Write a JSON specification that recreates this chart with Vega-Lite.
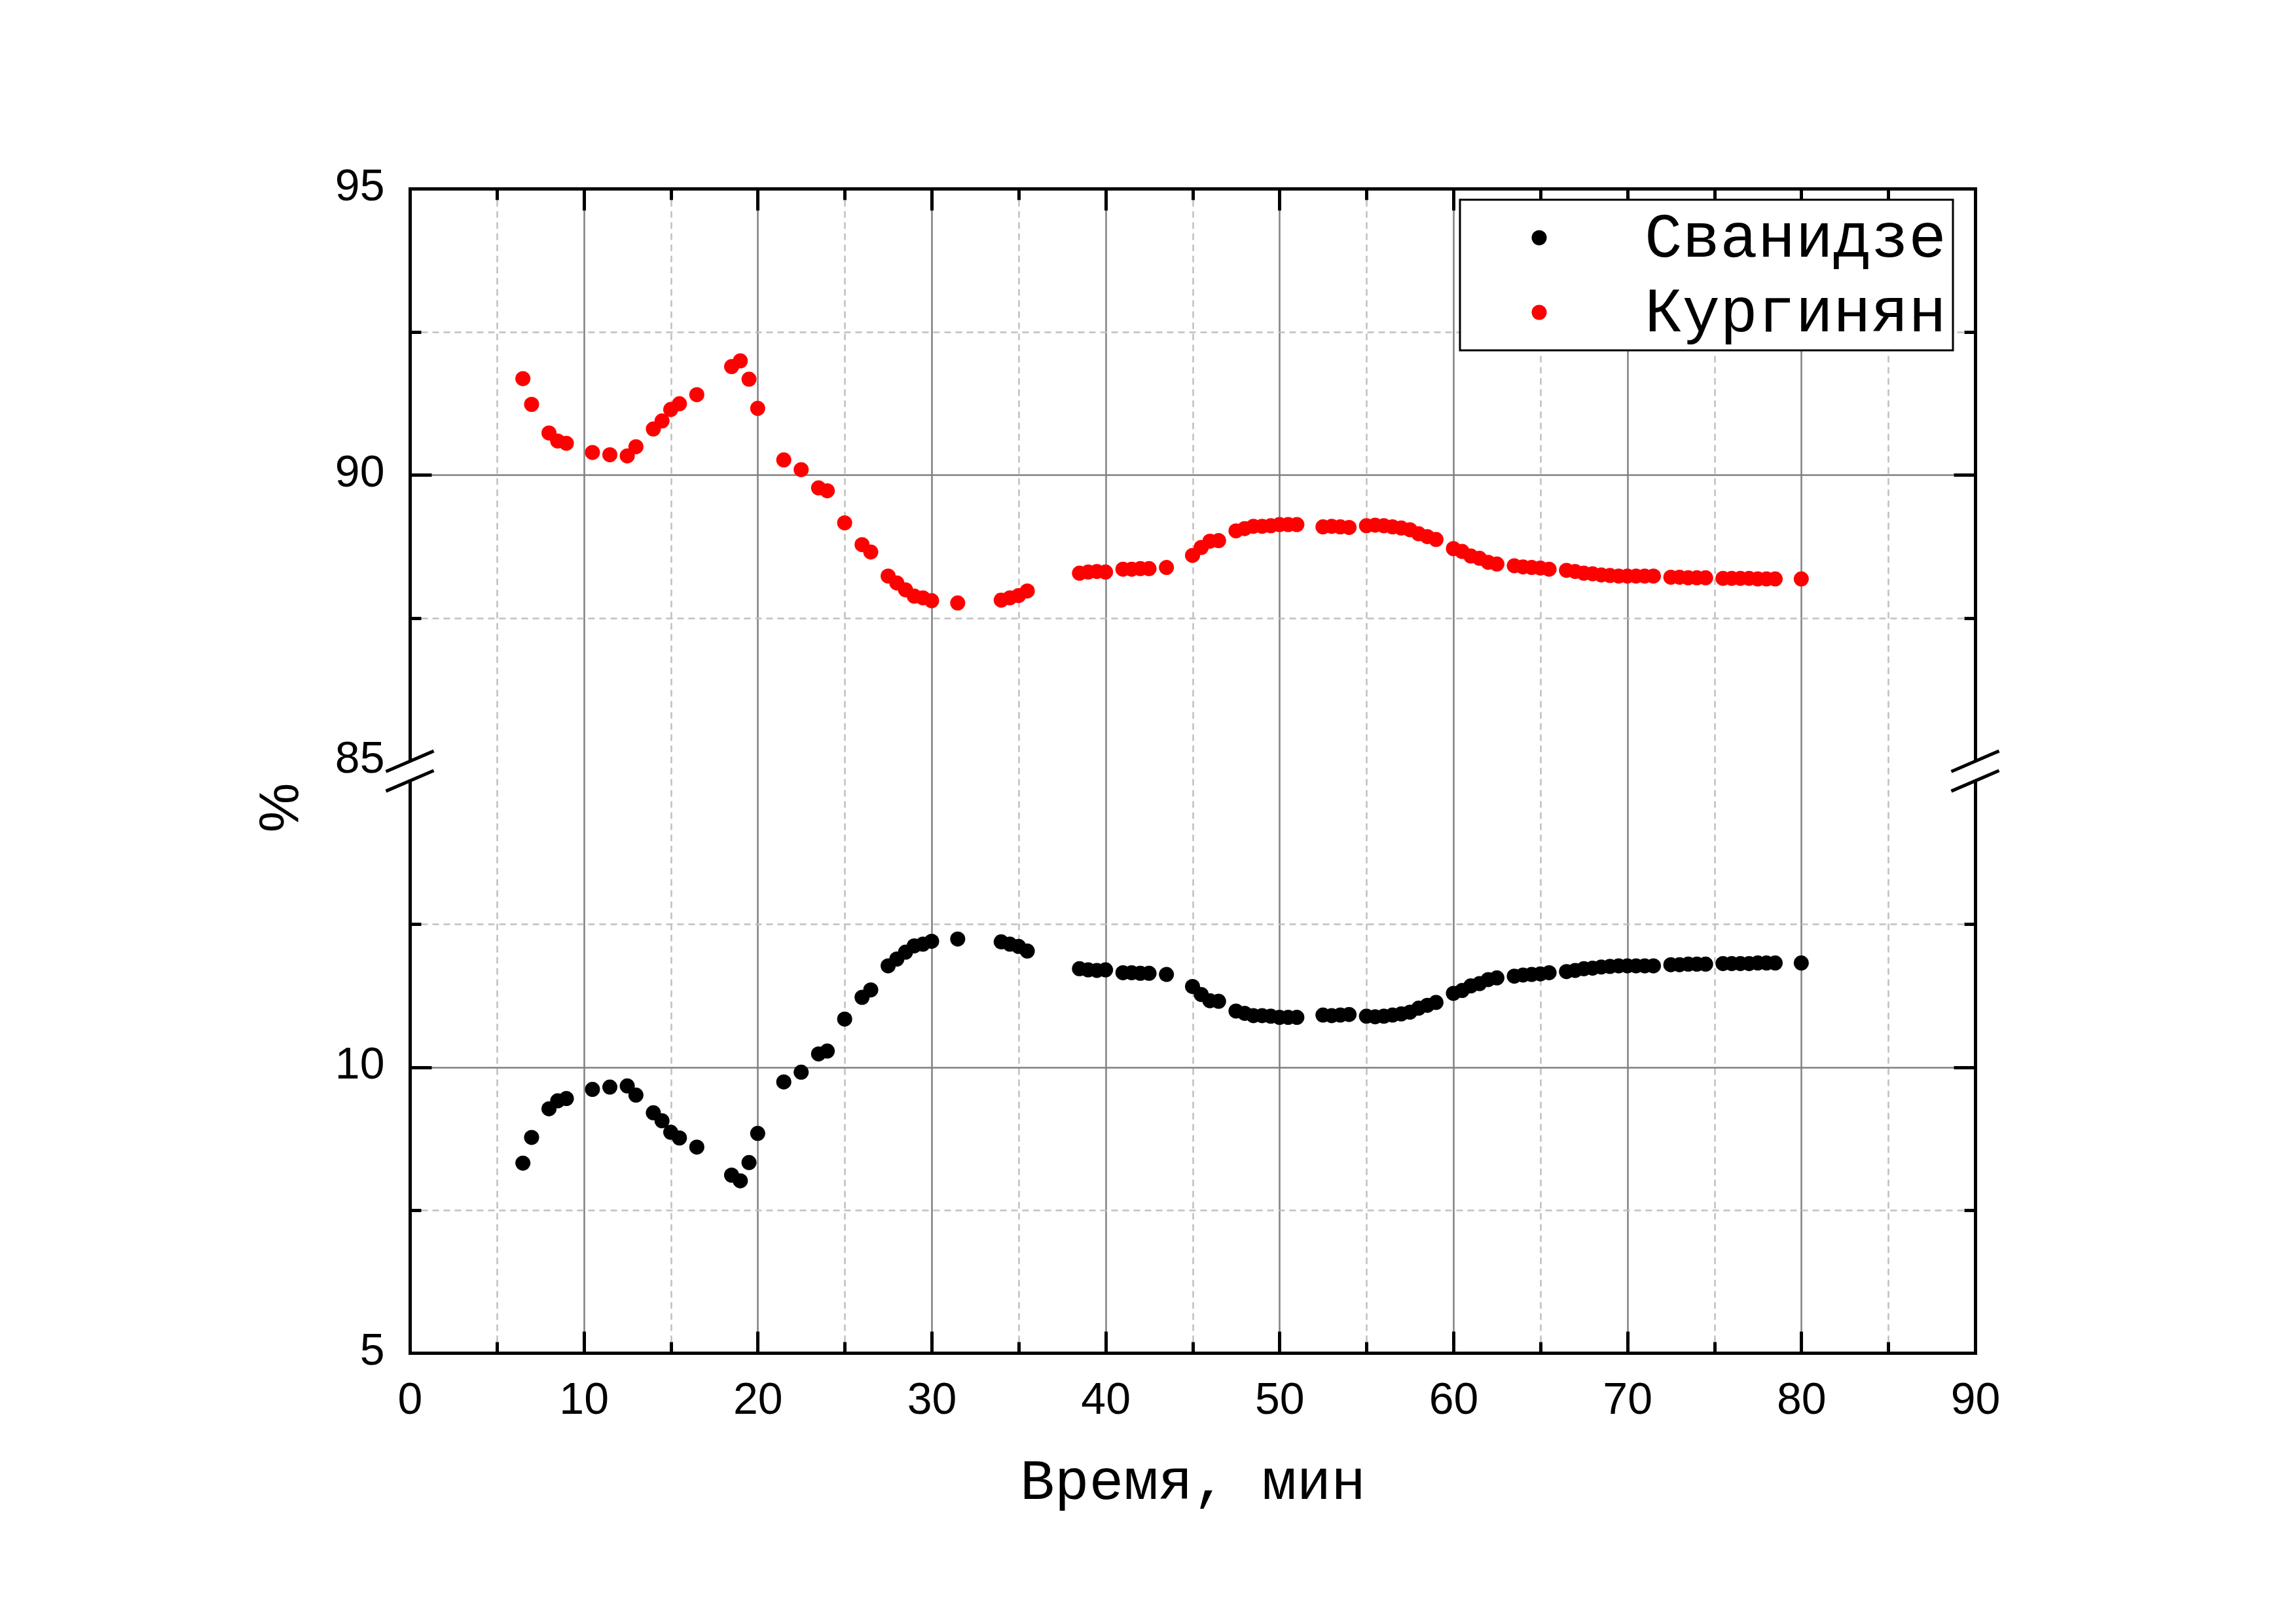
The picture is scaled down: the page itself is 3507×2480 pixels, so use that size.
{
"$schema":"https://vega.github.io/schema/vega-lite/v6.json",
"width":2391,"height":1778,
"autosize":{"type":"none"},
"padding":{"left":626,"top":288,"right":490,"bottom":414},
"background":"white",
"config":{"view":{"stroke":null},
 "axis":{"labelFont":"Liberation Sans","labelFontSize":68,"labelColor":"black","labelFlush":false,"tickColor":"black","tickWidth":5,"domainColor":"black","domainWidth":5,"domainCap":"square","titleColor":"black","titleFontWeight":"normal"}},
"resolve":{"axis":{"x":"independent","y":"independent"}},
"layer":[
{
"data":{"values":[
{"t":6.5,"v":91.68,"s":"Кургинян"},{"t":7.0,"v":91.23,"s":"Кургинян"},{"t":8.0,"v":90.73,"s":"Кургинян"},{"t":8.5,"v":90.59,"s":"Кургинян"},{"t":9.0,"v":90.55,"s":"Кургинян"},{"t":10.5,"v":90.39,"s":"Кургинян"},{"t":11.5,"v":90.35,"s":"Кургинян"},{"t":12.5,"v":90.33,"s":"Кургинян"},{"t":13.0,"v":90.49,"s":"Кургинян"},{"t":14.0,"v":90.80,"s":"Кургинян"},{"t":14.5,"v":90.94,"s":"Кургинян"},{"t":15.0,"v":91.14,"s":"Кургинян"},{"t":15.5,"v":91.24,"s":"Кургинян"},{"t":16.5,"v":91.40,"s":"Кургинян"},{"t":18.5,"v":91.89,"s":"Кургинян"},{"t":19.0,"v":91.99,"s":"Кургинян"},{"t":19.5,"v":91.67,"s":"Кургинян"},{"t":20.0,"v":91.16,"s":"Кургинян"},{"t":21.5,"v":90.26,"s":"Кургинян"},{"t":22.5,"v":90.09,"s":"Кургинян"},{"t":23.5,"v":89.77,"s":"Кургинян"},{"t":24.0,"v":89.72,"s":"Кургинян"},{"t":25.0,"v":89.16,"s":"Кургинян"},{"t":26.0,"v":88.78,"s":"Кургинян"},{"t":26.5,"v":88.65,"s":"Кургинян"},{"t":27.5,"v":88.23,"s":"Кургинян"},{"t":28.0,"v":88.11,"s":"Кургинян"},{"t":28.5,"v":87.99,"s":"Кургинян"},{"t":29.0,"v":87.88,"s":"Кургинян"},{"t":29.5,"v":87.85,"s":"Кургинян"},{"t":30.0,"v":87.80,"s":"Кургинян"},{"t":31.5,"v":87.76,"s":"Кургинян"},{"t":34.0,"v":87.81,"s":"Кургинян"},{"t":34.5,"v":87.85,"s":"Кургинян"},{"t":35.0,"v":87.89,"s":"Кургинян"},{"t":35.5,"v":87.97,"s":"Кургинян"},{"t":38.5,"v":88.28,"s":"Кургинян"},{"t":39.0,"v":88.30,"s":"Кургинян"},{"t":39.5,"v":88.31,"s":"Кургинян"},{"t":40.0,"v":88.30,"s":"Кургинян"},{"t":41.0,"v":88.35,"s":"Кургинян"},{"t":41.5,"v":88.35,"s":"Кургинян"},{"t":42.0,"v":88.36,"s":"Кургинян"},{"t":42.5,"v":88.36,"s":"Кургинян"},{"t":43.5,"v":88.38,"s":"Кургинян"},{"t":45.0,"v":88.59,"s":"Кургинян"},{"t":45.5,"v":88.73,"s":"Кургинян"},{"t":46.0,"v":88.84,"s":"Кургинян"},{"t":46.5,"v":88.85,"s":"Кургинян"},{"t":47.5,"v":89.02,"s":"Кургинян"},{"t":48.0,"v":89.06,"s":"Кургинян"},{"t":48.5,"v":89.10,"s":"Кургинян"},{"t":49.0,"v":89.10,"s":"Кургинян"},{"t":49.5,"v":89.11,"s":"Кургинян"},{"t":50.0,"v":89.13,"s":"Кургинян"},{"t":50.5,"v":89.13,"s":"Кургинян"},{"t":51.0,"v":89.13,"s":"Кургинян"},{"t":52.5,"v":89.09,"s":"Кургинян"},{"t":53.0,"v":89.10,"s":"Кургинян"},{"t":53.5,"v":89.09,"s":"Кургинян"},{"t":54.0,"v":89.08,"s":"Кургинян"},{"t":55.0,"v":89.11,"s":"Кургинян"},{"t":55.5,"v":89.12,"s":"Кургинян"},{"t":56.0,"v":89.11,"s":"Кургинян"},{"t":56.5,"v":89.09,"s":"Кургинян"},{"t":57.0,"v":89.07,"s":"Кургинян"},{"t":57.5,"v":89.04,"s":"Кургинян"},{"t":58.0,"v":88.97,"s":"Кургинян"},{"t":58.5,"v":88.92,"s":"Кургинян"},{"t":59.0,"v":88.87,"s":"Кургинян"},{"t":60.0,"v":88.71,"s":"Кургинян"},{"t":60.5,"v":88.66,"s":"Кургинян"},{"t":61.0,"v":88.58,"s":"Кургинян"},{"t":61.5,"v":88.54,"s":"Кургинян"},{"t":62.0,"v":88.47,"s":"Кургинян"},{"t":62.5,"v":88.44,"s":"Кургинян"},{"t":63.5,"v":88.41,"s":"Кургинян"},{"t":64.0,"v":88.39,"s":"Кургинян"},{"t":64.5,"v":88.38,"s":"Кургинян"},{"t":65.0,"v":88.37,"s":"Кургинян"},{"t":65.5,"v":88.35,"s":"Кургинян"},{"t":66.5,"v":88.33,"s":"Кургинян"},{"t":67.0,"v":88.31,"s":"Кургинян"},{"t":67.5,"v":88.28,"s":"Кургинян"},{"t":68.0,"v":88.27,"s":"Кургинян"},{"t":68.5,"v":88.25,"s":"Кургинян"},{"t":69.0,"v":88.24,"s":"Кургинян"},{"t":69.5,"v":88.23,"s":"Кургинян"},{"t":70.0,"v":88.23,"s":"Кургинян"},{"t":70.5,"v":88.23,"s":"Кургинян"},{"t":71.0,"v":88.23,"s":"Кургинян"},{"t":71.5,"v":88.23,"s":"Кургинян"},{"t":72.5,"v":88.21,"s":"Кургинян"},{"t":73.0,"v":88.21,"s":"Кургинян"},{"t":73.5,"v":88.20,"s":"Кургинян"},{"t":74.0,"v":88.20,"s":"Кургинян"},{"t":74.5,"v":88.20,"s":"Кургинян"},{"t":75.5,"v":88.19,"s":"Кургинян"},{"t":76.0,"v":88.19,"s":"Кургинян"},{"t":76.5,"v":88.19,"s":"Кургинян"},{"t":77.0,"v":88.19,"s":"Кургинян"},{"t":77.5,"v":88.18,"s":"Кургинян"},{"t":78.0,"v":88.18,"s":"Кургинян"},{"t":78.5,"v":88.18,"s":"Кургинян"},{"t":80.0,"v":88.18,"s":"Кургинян"},
{"t":6.5,"v":8.32,"s":"Сванидзе"},{"t":7.0,"v":8.77,"s":"Сванидзе"},{"t":8.0,"v":9.27,"s":"Сванидзе"},{"t":8.5,"v":9.41,"s":"Сванидзе"},{"t":9.0,"v":9.45,"s":"Сванидзе"},{"t":10.5,"v":9.61,"s":"Сванидзе"},{"t":11.5,"v":9.65,"s":"Сванидзе"},{"t":12.5,"v":9.67,"s":"Сванидзе"},{"t":13.0,"v":9.51,"s":"Сванидзе"},{"t":14.0,"v":9.20,"s":"Сванидзе"},{"t":14.5,"v":9.06,"s":"Сванидзе"},{"t":15.0,"v":8.86,"s":"Сванидзе"},{"t":15.5,"v":8.76,"s":"Сванидзе"},{"t":16.5,"v":8.60,"s":"Сванидзе"},{"t":18.5,"v":8.11,"s":"Сванидзе"},{"t":19.0,"v":8.01,"s":"Сванидзе"},{"t":19.5,"v":8.33,"s":"Сванидзе"},{"t":20.0,"v":8.84,"s":"Сванидзе"},{"t":21.5,"v":9.74,"s":"Сванидзе"},{"t":22.5,"v":9.91,"s":"Сванидзе"},{"t":23.5,"v":10.23,"s":"Сванидзе"},{"t":24.0,"v":10.28,"s":"Сванидзе"},{"t":25.0,"v":10.84,"s":"Сванидзе"},{"t":26.0,"v":11.22,"s":"Сванидзе"},{"t":26.5,"v":11.35,"s":"Сванидзе"},{"t":27.5,"v":11.77,"s":"Сванидзе"},{"t":28.0,"v":11.89,"s":"Сванидзе"},{"t":28.5,"v":12.01,"s":"Сванидзе"},{"t":29.0,"v":12.12,"s":"Сванидзе"},{"t":29.5,"v":12.15,"s":"Сванидзе"},{"t":30.0,"v":12.20,"s":"Сванидзе"},{"t":31.5,"v":12.24,"s":"Сванидзе"},{"t":34.0,"v":12.19,"s":"Сванидзе"},{"t":34.5,"v":12.15,"s":"Сванидзе"},{"t":35.0,"v":12.11,"s":"Сванидзе"},{"t":35.5,"v":12.03,"s":"Сванидзе"},{"t":38.5,"v":11.72,"s":"Сванидзе"},{"t":39.0,"v":11.70,"s":"Сванидзе"},{"t":39.5,"v":11.69,"s":"Сванидзе"},{"t":40.0,"v":11.70,"s":"Сванидзе"},{"t":41.0,"v":11.65,"s":"Сванидзе"},{"t":41.5,"v":11.65,"s":"Сванидзе"},{"t":42.0,"v":11.64,"s":"Сванидзе"},{"t":42.5,"v":11.64,"s":"Сванидзе"},{"t":43.5,"v":11.62,"s":"Сванидзе"},{"t":45.0,"v":11.41,"s":"Сванидзе"},{"t":45.5,"v":11.27,"s":"Сванидзе"},{"t":46.0,"v":11.16,"s":"Сванидзе"},{"t":46.5,"v":11.15,"s":"Сванидзе"},{"t":47.5,"v":10.98,"s":"Сванидзе"},{"t":48.0,"v":10.94,"s":"Сванидзе"},{"t":48.5,"v":10.90,"s":"Сванидзе"},{"t":49.0,"v":10.90,"s":"Сванидзе"},{"t":49.5,"v":10.89,"s":"Сванидзе"},{"t":50.0,"v":10.87,"s":"Сванидзе"},{"t":50.5,"v":10.87,"s":"Сванидзе"},{"t":51.0,"v":10.87,"s":"Сванидзе"},{"t":52.5,"v":10.91,"s":"Сванидзе"},{"t":53.0,"v":10.90,"s":"Сванидзе"},{"t":53.5,"v":10.91,"s":"Сванидзе"},{"t":54.0,"v":10.92,"s":"Сванидзе"},{"t":55.0,"v":10.89,"s":"Сванидзе"},{"t":55.5,"v":10.88,"s":"Сванидзе"},{"t":56.0,"v":10.89,"s":"Сванидзе"},{"t":56.5,"v":10.91,"s":"Сванидзе"},{"t":57.0,"v":10.93,"s":"Сванидзе"},{"t":57.5,"v":10.96,"s":"Сванидзе"},{"t":58.0,"v":11.03,"s":"Сванидзе"},{"t":58.5,"v":11.08,"s":"Сванидзе"},{"t":59.0,"v":11.13,"s":"Сванидзе"},{"t":60.0,"v":11.29,"s":"Сванидзе"},{"t":60.5,"v":11.34,"s":"Сванидзе"},{"t":61.0,"v":11.42,"s":"Сванидзе"},{"t":61.5,"v":11.46,"s":"Сванидзе"},{"t":62.0,"v":11.53,"s":"Сванидзе"},{"t":62.5,"v":11.56,"s":"Сванидзе"},{"t":63.5,"v":11.59,"s":"Сванидзе"},{"t":64.0,"v":11.61,"s":"Сванидзе"},{"t":64.5,"v":11.62,"s":"Сванидзе"},{"t":65.0,"v":11.63,"s":"Сванидзе"},{"t":65.5,"v":11.65,"s":"Сванидзе"},{"t":66.5,"v":11.67,"s":"Сванидзе"},{"t":67.0,"v":11.69,"s":"Сванидзе"},{"t":67.5,"v":11.72,"s":"Сванидзе"},{"t":68.0,"v":11.73,"s":"Сванидзе"},{"t":68.5,"v":11.75,"s":"Сванидзе"},{"t":69.0,"v":11.76,"s":"Сванидзе"},{"t":69.5,"v":11.77,"s":"Сванидзе"},{"t":70.0,"v":11.77,"s":"Сванидзе"},{"t":70.5,"v":11.77,"s":"Сванидзе"},{"t":71.0,"v":11.77,"s":"Сванидзе"},{"t":71.5,"v":11.77,"s":"Сванидзе"},{"t":72.5,"v":11.79,"s":"Сванидзе"},{"t":73.0,"v":11.79,"s":"Сванидзе"},{"t":73.5,"v":11.80,"s":"Сванидзе"},{"t":74.0,"v":11.80,"s":"Сванидзе"},{"t":74.5,"v":11.80,"s":"Сванидзе"},{"t":75.5,"v":11.81,"s":"Сванидзе"},{"t":76.0,"v":11.81,"s":"Сванидзе"},{"t":76.5,"v":11.81,"s":"Сванидзе"},{"t":77.0,"v":11.81,"s":"Сванидзе"},{"t":77.5,"v":11.82,"s":"Сванидзе"},{"t":78.0,"v":11.82,"s":"Сванидзе"},{"t":78.5,"v":11.82,"s":"Сванидзе"},{"t":80.0,"v":11.82,"s":"Сванидзе"}
]},
"mark":{"type":"point","filled":true,"shape":"circle","size":529,"opacity":1,"strokeWidth":0},
"encoding":{
 "x":{"field":"t","type":"quantitative","scale":{"domain":[0,90],"range":[0,2391],"nice":false,"zero":false},
  "axis":{"orient":"bottom","values":[0,10,20,30,40,50,60,70,80,90],"tickSize":-33,"labelPadding":71,"labelFlush":false,"grid":true,"gridColor":"#808080","gridWidth":2.5,"domain":true,
   "title":"Время, мин","titleFont":"Liberation Mono","titleFontSize":88,"titleY":222,"titleBaseline":"alphabetic"}},
 "y":{"field":"v","type":"quantitative","scale":{"domain":[5,15,85,95],"range":[1778,905,874,0],"nice":false,"zero":false},
  "axis":{"orient":"left","values":[5,10,85,90,95],"tickSize":-33,"labelPadding":72,"labelOffset":-3,"labelFlush":false,
   "tickOpacity":{"condition":{"test":"datum.value === 5 || datum.value === 85 || datum.value === 95","value":0},"value":1},
   "grid":true,"gridColor":"#808080","gridWidth":2.5,
   "gridOpacity":{"condition":{"test":"datum.value === 85","value":0},"value":1},
   "domain":true,"title":"%","titleFont":"Liberation Sans","titleFontSize":85,"titleX":-171,"titleY":945,"titleAngle":-90,"titleAlign":"center","titleBaseline":"alphabetic"}},
 "color":{"field":"s","type":"nominal","scale":{"domain":["Сванидзе","Кургинян"],"range":["#000000","#ff0000"]},
  "legend":{"orient":"none","legendX":1604,"legendY":17,"title":null,"fillColor":"white","strokeColor":"black","padding":10,
   "labelFont":"Liberation Mono","labelFontSize":96,"labelColor":"black","labelLimit":0,"symbolType":"circle","symbolSize":529,"symbolStrokeWidth":0,
   "symbolOffset":63,"labelOffset":113,"rowPadding":18,"symbolOpacity":1,
   "encode":{"legend":{"update":{"strokeWidth":{"value":3}}}}}}
}
},
{
"data":{"values":[{"t":0,"v":50},{"t":90,"v":50}]},
"mark":{"type":"point","shape":"M-0.3,-0.28L0.3,-0.54L0.3,0.28L-0.3,0.54Z","size":5329,"filled":true,"fill":"white","opacity":1,"strokeWidth":0},
"encoding":{
 "x":{"field":"t","type":"quantitative","scale":{"domain":[0,90],"range":[0,2391],"nice":false,"zero":false},
  "axis":{"orient":"bottom","values":[5,15,25,35,45,55,65,75,85],"tickSize":-17,"labels":false,"domain":false,"grid":true,"gridColor":"#c0c0c0","gridWidth":2.5,"gridDash":[10,7],"title":null}},
 "y":{"field":"v","type":"quantitative","scale":{"domain":[5,15,85,95],"range":[1778,905,874,0],"nice":false,"zero":false},
  "axis":{"orient":"left","values":[7.5,12.5,87.5,92.5],"tickSize":-17,"labels":false,"domain":false,"grid":true,"gridColor":"#c0c0c0","gridWidth":2.5,"gridDash":[10,7],"title":null}}
}
},
{
"data":{"values":[{"t":0,"v":50},{"t":90,"v":50}]},
"mark":{"type":"point","shape":"M-1,0.02L1,-0.84M-1,0.84L1,-0.02","size":5329,"filled":false,"color":"black","opacity":1,"strokeWidth":5},
"encoding":{
 "x":{"field":"t","type":"quantitative","scale":{"domain":[0,90],"range":[0,2391],"nice":false,"zero":false},
  "axis":{"orient":"top","values":[10,20,30,40,50,60,70,80],"tickSize":-33,"labels":false,"domain":true,"grid":false,"title":null}},
 "y":{"field":"v","type":"quantitative","scale":{"domain":[5,15,85,95],"range":[1778,905,874,0],"nice":false,"zero":false},
  "axis":{"orient":"right","values":[10,90],"tickSize":-33,"labels":false,"domain":true,"grid":false,"title":null}}
}
},
{
"data":{"values":[{"t":0,"v":50},{"t":90,"v":50}]},
"mark":{"type":"point","opacity":0,"size":1},
"encoding":{
 "x":{"field":"t","type":"quantitative","scale":{"domain":[0,90],"range":[0,2391],"nice":false,"zero":false},
  "axis":{"orient":"top","values":[5,15,25,35,45,55,65,75,85],"tickSize":-17,"labels":false,"domain":false,"grid":false,"title":null}},
 "y":{"field":"v","type":"quantitative","scale":{"domain":[5,15,85,95],"range":[1778,905,874,0],"nice":false,"zero":false},
  "axis":{"orient":"right","values":[7.5,12.5,87.5,92.5],"tickSize":-17,"labels":false,"domain":false,"grid":false,"title":null}}
}
}
]
}
